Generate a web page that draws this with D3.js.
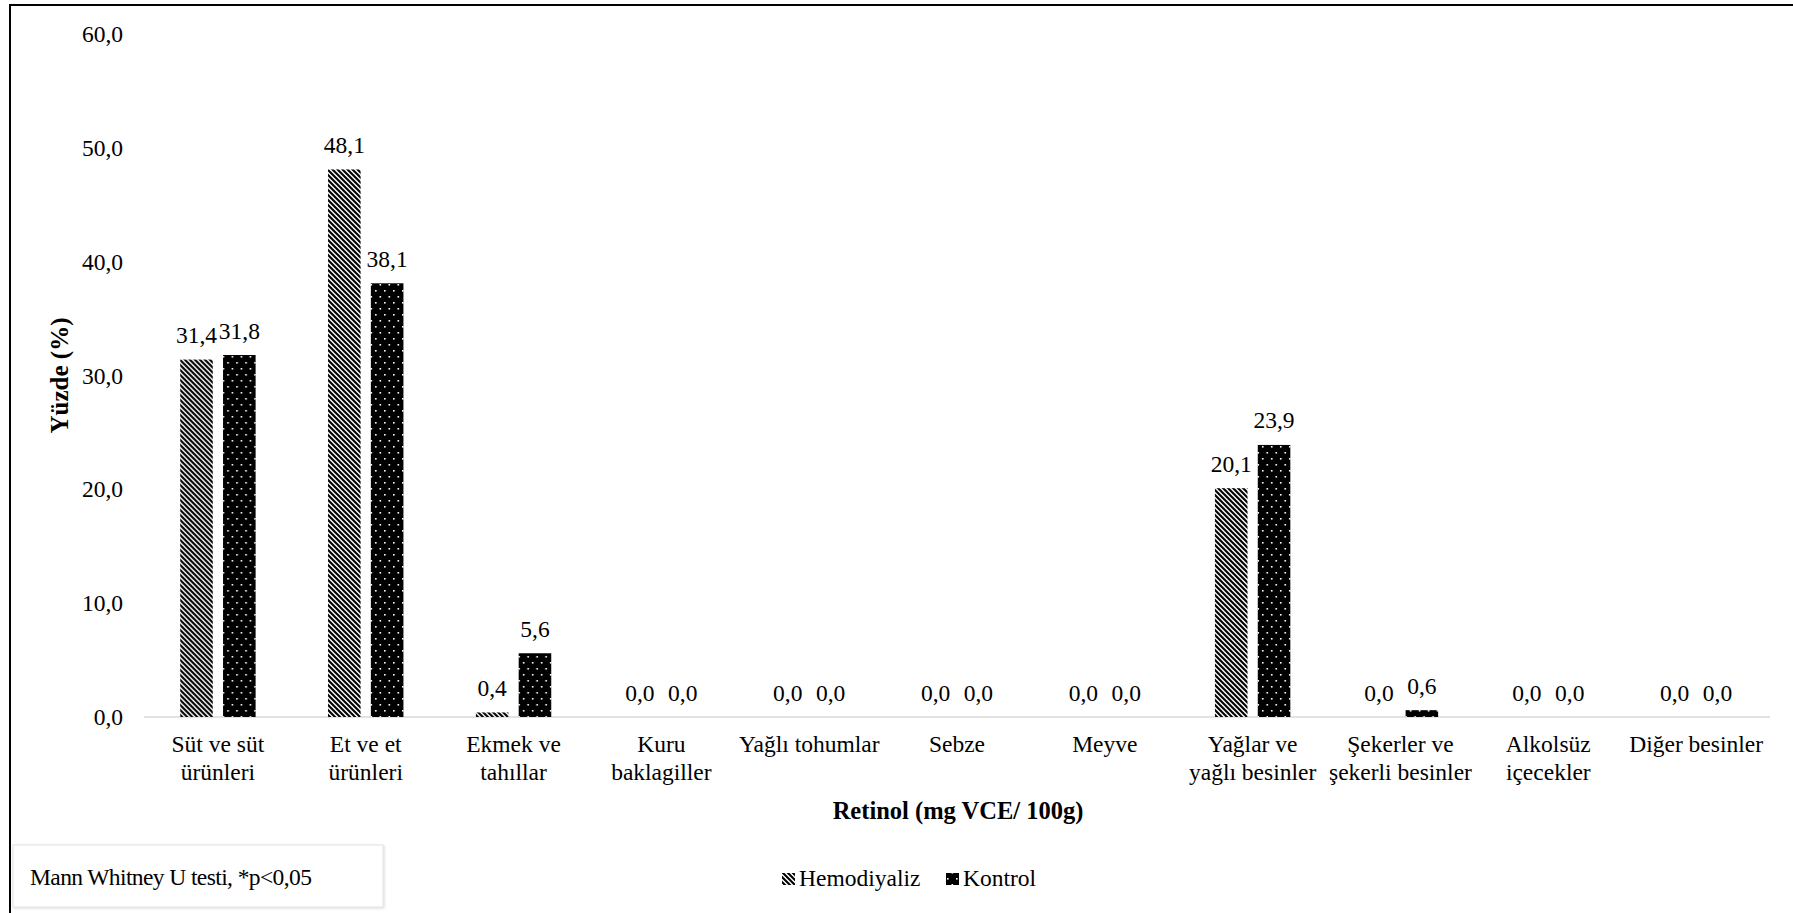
<!DOCTYPE html>
<html>
<head>
<meta charset="utf-8">
<script src="https://cdn.jsdelivr.net/npm/d3@7"></script>
<style>
  html, body { margin: 0; padding: 0; background: #fff; }
  svg { display: block; }
  svg text { font-family: "Liberation Serif", "Times New Roman", Times, "DejaVu Serif", serif !important; fill: #000; }
</style>
</head>
<body>
<svg id="chart" width="1793" height="913"></svg>
<script>
const categories = [
  "Süt ve süt\nürünleri",
  "Et ve et\nürünleri",
  "Ekmek ve\ntahıllar",
  "Kuru\nbaklagiller",
  "Yağlı tohumlar",
  "Sebze",
  "Meyve",
  "Yağlar ve\nyağlı besinler",
  "Şekerler ve\nşekerli besinler",
  "Alkolsüz\niçecekler",
  "Diğer besinler"
];
const seriesNames = ["Hemodiyaliz", "Kontrol"];
const hemodiyaliz = [31.4, 48.1, 0.4, 0.0, 0.0, 0.0, 0.0, 20.1, 0.0, 0.0, 0.0];
const kontrol     = [31.8, 38.1, 5.6, 0.0, 0.0, 0.0, 0.0, 23.9, 0.6, 0.0, 0.0];
const yTicks = [0, 10, 20, 30, 40, 50, 60];
const yTitle = "Yüzde (%)";
const xTitle = "Retinol (mg VCE/ 100g)";
const footnote = "Mann Whitney U testi, *p<0,05";

const FONT = "'Liberation Serif', 'Times New Roman', Times, 'DejaVu Serif', serif";
const svg = d3.select("#chart").attr("font-family", FONT);
const fmt = v => d3.format(".1f")(v).replace(".", ",");

// patterns
const defs = svg.append("defs");
const hatch = defs.append("pattern").attr("id", "hatch")
  .attr("patternUnits", "userSpaceOnUse").attr("width", 5).attr("height", 5);
hatch.append("rect").attr("width", 5).attr("height", 5).attr("fill", "#fff");
hatch.append("path").attr("d", "M-1,-1 L6,6 M-1,4 L1,6 M4,-1 L6,1")
  .attr("stroke", "#000").attr("stroke-width", 2.1);

const dots = defs.append("pattern").attr("id", "dots")
  .attr("patternUnits", "userSpaceOnUse").attr("width", 9).attr("height", 12);
dots.append("rect").attr("width", 9).attr("height", 12).attr("fill", "#000");
dots.append("rect").attr("x", 2).attr("y", 2).attr("width", 1.6).attr("height", 1.6).attr("fill", "#fff");
dots.append("rect").attr("x", 6.5).attr("y", 8).attr("width", 1.6).attr("height", 1.6).attr("fill", "#fff");

const shadow = defs.append("filter").attr("id", "shadow").attr("x", "-5%").attr("y", "-20%").attr("width", "110%").attr("height", "140%");
shadow.append("feDropShadow").attr("dx", 1).attr("dy", 1).attr("stdDeviation", 1.2).attr("flood-color", "#000").attr("flood-opacity", 0.15);

// frame
svg.append("line").attr("x1", 9).attr("x2", 1793).attr("y1", 5).attr("y2", 5)
  .attr("stroke", "#000").attr("stroke-width", 2);
svg.append("line").attr("x1", 10).attr("x2", 10).attr("y1", 4).attr("y2", 913)
  .attr("stroke", "#000").attr("stroke-width", 2);

const plot = { left: 144, right: 1770, top: 34, bottom: 717 };

const x0 = d3.scaleBand().domain(categories).range([plot.left, plot.right])
  .paddingInner(0.49).paddingOuter(0.245);
const x1 = d3.scaleBand().domain(seriesNames).range([0, x0.bandwidth()]).paddingInner(0.24);
const y = d3.scaleLinear().domain([0, 60]).range([plot.bottom, plot.top]);

// y axis labels
const yAxis = d3.axisLeft(y).tickValues(yTicks).tickFormat(fmt).tickSize(0).tickPadding(0);
const gy = svg.append("g").attr("transform", "translate(123,0)").call(yAxis).attr("font-family", FONT);
gy.select(".domain").remove();
gy.selectAll("text").attr("font-size", 23.5).attr("fill", "#000");

// baseline
svg.append("line").attr("x1", plot.left).attr("x2", plot.right)
  .attr("y1", y(0)).attr("y2", y(0)).attr("stroke", "#d9d9d9").attr("stroke-width", 1.5);

// bars
const data = categories.map((c, i) => ({ cat: c, vals: [
  { s: "Hemodiyaliz", v: hemodiyaliz[i] }, { s: "Kontrol", v: kontrol[i] } ] }));
const groups = svg.append("g").selectAll("g").data(data).join("g")
  .attr("transform", d => `translate(${x0(d.cat)},0)`);
groups.selectAll("rect").data(d => d.vals).join("rect")
  .attr("x", d => x1(d.s)).attr("width", x1.bandwidth())
  .attr("y", d => y(d.v)).attr("height", d => y(0) - y(d.v))
  .attr("fill", d => d.s === "Hemodiyaliz" ? "url(#hatch)" : "url(#dots)");
groups.selectAll("text").data(d => d.vals).join("text")
  .attr("x", d => x1(d.s) + x1.bandwidth() / 2).attr("y", d => y(d.v) - 16.5)
  .attr("text-anchor", "middle").attr("font-size", 23.5).text(d => fmt(d.v));

// category labels
const xAxis = d3.axisBottom(x0).tickSize(0).tickFormat("");
const gx = svg.append("g").attr("transform", `translate(0,${y(0)})`).call(xAxis).attr("font-family", FONT);
gx.select(".domain").remove();
gx.selectAll(".tick").each(function(d) {
  const t = d3.select(this).append("text").attr("text-anchor", "middle").attr("font-size", 23.5).attr("fill", "#000");
  d.split("\n").forEach((line, i) => {
    t.append("tspan").attr("x", 0).attr("y", 35 + i * 28).text(line);
  });
});

// titles
svg.append("text").attr("transform", `translate(68,${(plot.top + plot.bottom) / 2}) rotate(-90)`)
  .attr("text-anchor", "middle").attr("font-size", 25).attr("font-weight", "bold").text(yTitle);
svg.append("text").attr("x", 958).attr("y", 819).attr("text-anchor", "middle")
  .attr("font-size", 24.5).attr("font-weight", "bold").text(xTitle);

// legend
const legend = svg.append("g");
const legItems = [{ s: "Hemodiyaliz", x: 782, fill: "url(#hatch)" }, { s: "Kontrol", x: 946, fill: "url(#dots)" }];
legItems.forEach(it => {
  legend.append("rect").attr("x", it.x).attr("y", 873).attr("width", 13).attr("height", 12).attr("fill", it.fill);
  legend.append("text").attr("x", it.x + 17).attr("y", 886).attr("font-size", 23.5).text(it.s);
});

// footnote box
svg.append("rect").attr("x", 13).attr("y", 845).attr("width", 370).attr("height", 62)
  .attr("fill", "#fff").attr("stroke", "#e2e2e2").attr("stroke-width", 1).attr("filter", "url(#shadow)");
svg.append("text").attr("x", 30).attr("y", 885).attr("font-size", 23.5).attr("letter-spacing", -0.6)
  .attr("fill", "#111").text(footnote);
</script>
</body>
</html>
